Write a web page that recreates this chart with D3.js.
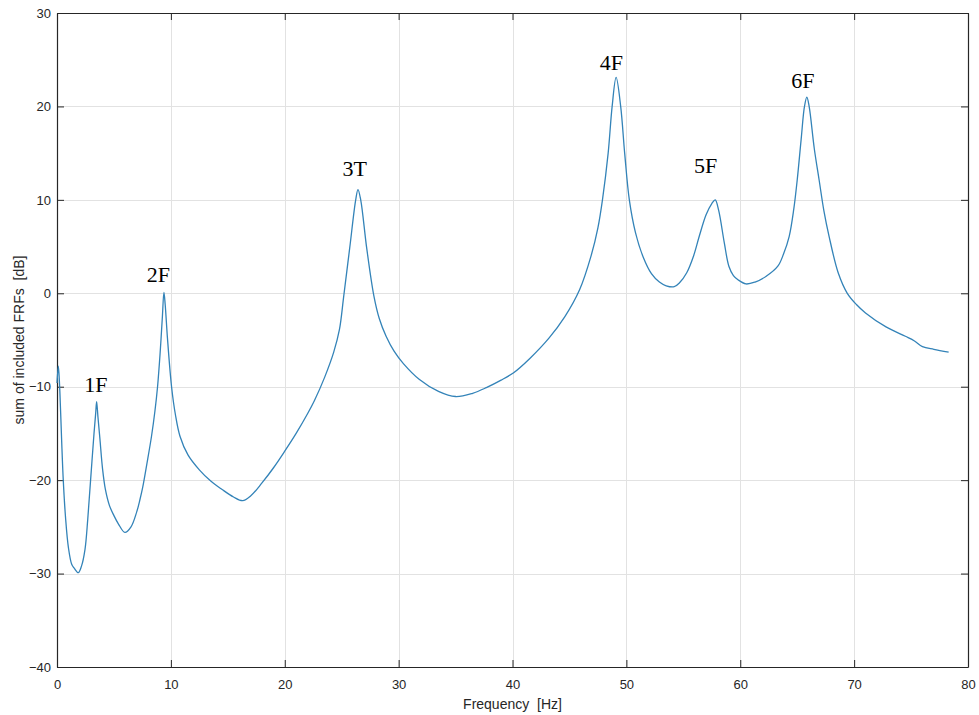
<!DOCTYPE html>
<html><head><meta charset="utf-8">
<script src="https://cdn.jsdelivr.net/npm/d3@7"></script>
<style>body{margin:0;background:#fff}svg{display:block}</style>
</head><body>
<script>
const freq = [0,0.12,0.25,0.4,0.55,0.75,1.0,1.29,1.5,1.87,2.15,2.46,2.7,2.95,3.25,3.4,3.48,3.6,3.77,4.0,4.25,4.6,5.0,5.4,5.96,6.5,7.0,7.28,7.52,7.9,8.3,8.6,8.83,9.05,9.25,9.39,9.5,9.7,10.06,10.4,10.8,11.5,12.5,13.5,14.5,15.5,16.3,17.0,18.0,19.0,20.0,21.0,22.0,22.6,23.5,24.3,24.8,25.18,25.7,26.23,26.43,26.67,27.2,27.83,28.3,28.9,29.6,30.4,31.8,33.5,35.0,36.5,37.7,39.0,40.1,41.5,43.2,44.6,45.9,46.9,47.5,47.9,48.4,48.75,49.1,49.5,49.85,50.26,50.8,51.5,52.2,52.9,53.5,54.2,54.65,55.3,55.9,56.4,57.0,57.5,57.8,58.1,58.6,59.0,59.4,59.8,60.5,61.3,62.25,63.3,63.8,64.3,64.7,65.0,65.35,65.64,65.85,66.05,66.5,66.93,67.35,67.8,68.6,69.4,70.2,71.0,72.8,74.5,75.3,76.0,77.0,78.3];
const dB = [-9.6,-7.8,-10.5,-15.5,-20,-24,-27.2,-29.0,-29.4,-29.9,-29.2,-27.4,-24.2,-20,-15,-12.8,-11.6,-13.3,-15.6,-18.8,-21.0,-22.7,-23.8,-24.7,-25.6,-25.0,-23.4,-22.1,-20.8,-18.2,-15.3,-12.6,-10,-6.5,-2.6,0.1,-1.2,-4.8,-10,-13.0,-15.3,-17.3,-18.9,-20.1,-21.0,-21.8,-22.2,-21.7,-20.3,-18.7,-16.9,-15.0,-12.9,-11.5,-9.0,-6.3,-3.9,-0.3,4.8,10,11.1,10,4.8,-0.3,-2.7,-4.6,-6.2,-7.5,-9.2,-10.5,-11.05,-10.7,-10.1,-9.3,-8.5,-7.0,-4.8,-2.5,0.4,4,7,10,15,20,23.1,20,15,10,6.5,3.8,2.1,1.2,0.8,0.7,1.1,2.2,4.0,6.1,8.4,9.6,10.0,8.9,5.4,2.9,1.9,1.45,1.0,1.2,1.8,2.9,4.2,6.1,9.0,12.1,16.5,20,21.0,20,15.5,12.1,8.8,6.1,2.2,0,-1.2,-2.1,-3.6,-4.6,-5.1,-5.7,-6.0,-6.3];
const xTicks = [0,10,20,30,40,50,60,70,80];
const yTicks = [-40,-30,-20,-10,0,10,20,30];
const modeLabels = ["1F","2F","3T","4F","5F","6F"];
const modeFreq = [3.42,8.9,26.14,48.68,56.97,65.5];
const modeDB = [-10.56,1.2,12.55,23.9,12.9,22.0];

const W = 979, H = 715;
const m = {left:57, right:11, top:13, bottom:48};
const svg = d3.select("body").append("svg").attr("width",W).attr("height",H);
const x = d3.scaleLinear().domain([0,80]).range([m.left, W-m.right]);
const y = d3.scaleLinear().domain([-40,30]).range([H-m.bottom, m.top]);
const axCol = "#262626";
const font = "Liberation Sans, Arial, sans-serif";

// grid
svg.append("g").selectAll("line").data(xTicks.slice(1,-1)).join("line")
  .attr("x1",d=>Math.round(x(d))+0.5).attr("x2",d=>Math.round(x(d))+0.5)
  .attr("y1",y(30)).attr("y2",y(-40)).attr("stroke","#e2e2e2").attr("stroke-width",1);
svg.append("g").selectAll("line").data(yTicks.slice(1,-1)).join("line")
  .attr("y1",d=>Math.round(y(d))+0.5).attr("y2",d=>Math.round(y(d))+0.5)
  .attr("x1",x(0)).attr("x2",x(80)).attr("stroke","#e2e2e2").attr("stroke-width",1);

// axes
const gBottom = svg.append("g").attr("transform",`translate(0,${y(-40)})`)
  .call(d3.axisBottom(x).tickValues(xTicks).tickSizeInner(-7).tickSizeOuter(0).tickPadding(13));
const gTop = svg.append("g").attr("transform",`translate(0,${y(30)})`)
  .call(d3.axisTop(x).tickValues(xTicks).tickSizeInner(-7).tickSizeOuter(0).tickFormat(""));
const gLeft = svg.append("g").attr("transform",`translate(${x(0)},0)`)
  .call(d3.axisLeft(y).tickValues(yTicks).tickSizeInner(-7).tickSizeOuter(0).tickPadding(13));
const gRight = svg.append("g").attr("transform",`translate(${x(80)},0)`)
  .call(d3.axisRight(y).tickValues(yTicks).tickSizeInner(-7).tickSizeOuter(0).tickFormat(""));
[gBottom,gTop,gLeft,gRight].forEach(g=>{
  g.selectAll("path").attr("stroke",axCol).attr("stroke-width",1.2);
  g.selectAll("line").attr("stroke",axCol);
  g.selectAll("text").attr("fill",axCol).style("font-family",font).style("font-size","13px");
});
gLeft.selectAll("text").attr("dx","7px");

// line
const data = freq.map((f,i)=>({f, v:dB[i]}));
svg.append("path").datum(data)
  .attr("fill","none").attr("stroke","#3383b8").attr("stroke-width",1.3)
  .attr("d", d3.line().x(d=>x(d.f)).y(d=>y(d.v)).curve(d3.curveCatmullRom.alpha(0.5)));

// mode labels
svg.append("g").selectAll("text").data(modeLabels).join("text")
  .attr("x",(d,i)=>x(modeFreq[i])).attr("y",(d,i)=>y(modeDB[i]))
  .attr("text-anchor","middle").style("font-family","Liberation Serif, Times New Roman, serif")
  .style("font-size","22px").attr("fill","#000").text(d=>d);

// axis titles
svg.append("text").attr("x",(x(0)+x(80))/2).attr("y",709).attr("text-anchor","middle")
  .style("white-space","pre")
  .style("font-family",font).style("font-size","14px").attr("fill",axCol).text("Frequency  [Hz]");
svg.append("text").attr("transform",`translate(24,${(y(30)+y(-40))/2}) rotate(-90)`)
  .style("white-space","pre")
  .attr("text-anchor","middle").style("font-family",font).style("font-size","14px")
  .attr("fill",axCol).text("sum of included FRFs  [dB]");
</script>
</body></html>
